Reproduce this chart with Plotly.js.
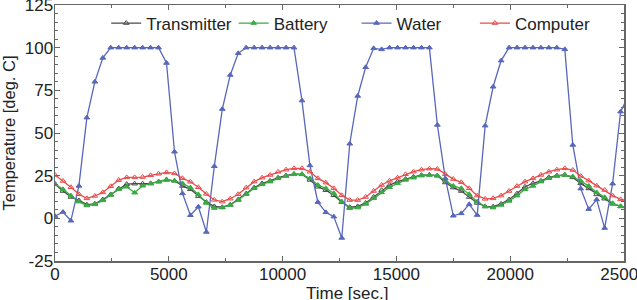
<!DOCTYPE html>
<html>
<head>
<meta charset="utf-8">
<script src="https://cdn.plot.ly/plotly-3.0.1.min.js"></script>
<style>
  html, body { margin: 0; padding: 0; background: #fff; }
  #chart { width: 637px; height: 300px; }
</style>
</head>
<body>
<div id="chart"></div>
<script>
// Sample times [sec.] – one reading every 350 s
const timeSec = [
  0, 350, 700, 1050, 1400, 1750, 2100, 2450, 2800, 3150,
  3500, 3850, 4200, 4550, 4900, 5250, 5600, 5950, 6300, 6650,
  7000, 7350, 7700, 8050, 8400, 8750, 9100, 9450, 9800, 10150,
  10500, 10850, 11200, 11550, 11900, 12250, 12600, 12950, 13300, 13650,
  14000, 14350, 14700, 15050, 15400, 15750, 16100, 16450, 16800, 17150,
  17500, 17850, 18200, 18550, 18900, 19250, 19600, 19950, 20300, 20650,
  21000, 21350, 21700, 22050, 22400, 22750, 23100, 23450, 23800, 24150,
  24500, 24850, 25200
];

// Temperatures [deg. C]
const transmitter = [
  20.1, 16.0, 12.5, 10.5, 8.0, 8.5, 11.0, 14.0, 17.5, 20.0,
  20.3, 20.3, 20.5, 21.5, 22.5, 22.0, 19.0, 17.0, 13.0, 9.5,
  7.0, 6.5, 8.0, 11.0, 14.5, 18.0, 20.5, 22.0, 23.8, 25.0,
  26.0, 25.8, 22.5, 18.5, 16.5, 13.5, 9.5, 6.5, 7.0, 9.0,
  12.5, 16.5, 19.5, 21.5, 23.0, 24.3, 25.3, 25.5, 25.0, 21.0,
  18.0, 16.0, 12.5, 9.0, 7.0, 6.8, 8.5, 11.0, 14.5, 18.5,
  20.5, 22.0, 24.0, 25.0, 25.5, 24.0, 20.5, 17.5, 14.0, 11.5,
  8.5, 7.0, 6.5
];

const battery = [
  20.1, 17.0, 13.3, 9.8, 7.5, 8.2, 10.5, 13.6, 17.0, 18.5,
  15.0, 19.1, 20.3, 21.5, 22.8, 22.0, 20.5, 18.0, 14.0, 9.0,
  6.0, 6.3, 7.8, 10.7, 14.1, 17.6, 19.9, 21.5, 23.4, 24.8,
  25.8, 25.8, 23.4, 19.5, 17.6, 14.7, 9.8, 5.9, 6.3, 8.4,
  11.7, 15.2, 18.2, 20.5, 22.5, 23.8, 25.0, 25.4, 25.0, 22.1,
  19.0, 17.6, 14.1, 9.8, 6.9, 6.3, 7.8, 10.2, 13.3, 17.0,
  19.0, 21.5, 23.5, 24.8, 25.3, 24.5, 21.9, 19.0, 15.2, 12.3,
  8.8, 7.0, 6.5
];

const water = [
  1.3, 3.7, -1.4, 19.0, 59.0, 80.0, 94.0, 100, 100, 100,
  100, 100, 100, 100, 91.0, 39.0, 14.6, 1.8, 6.8, -8.0,
  30.5, 64.0, 84.0, 96.7, 100, 100, 100, 100, 100, 100,
  100, 69.0, 31.0, 9.5, 3.5, 1.0, -11.5, 43.7, 71.7, 88.5,
  99.6, 99.0, 100, 100, 100, 100, 100, 100, 54.7, 23.4,
  1.5, 2.9, 8.2, 1.9, 54.3, 77.1, 92.4, 100, 100, 100,
  100, 100, 100, 100, 99.0, 43.0, 17.4, 5.4, 11.0, -5.7,
  20.3, 62.5, 72.0
];

const computer = [
  25.4, 21.9, 18.2, 14.1, 11.7, 13.1, 15.2, 18.8, 22.4, 24.0,
  24.0, 24.2, 25.2, 26.1, 26.9, 26.3, 23.5, 21.4, 18.2, 14.3,
  10.8, 9.8, 11.5, 14.1, 18.0, 21.5, 23.8, 25.4, 27.3, 28.5,
  29.3, 29.3, 27.3, 23.4, 20.9, 17.6, 13.5, 10.7, 10.7, 12.5,
  16.0, 19.5, 22.0, 23.8, 25.8, 27.3, 28.5, 29.1, 28.9, 25.8,
  23.0, 21.1, 17.6, 13.3, 11.4, 11.7, 13.3, 16.0, 18.9, 21.5,
  23.4, 25.4, 27.3, 28.5, 29.3, 28.3, 24.8, 22.1, 19.1, 16.6,
  13.3, 11.1, 10.5
];

const seriesNames = ['Transmitter', 'Battery', 'Water', 'Computer'];
const xTickVals = [0, 5000, 10000, 15000, 20000, 25000];
const yTickVals = [-25, 0, 25, 50, 75, 100, 125];

const FONT = 'Liberation Sans, Arial, Helvetica, sans-serif';

// Each series gets its own legend box so the entries can be spaced freely
function series(name, y, color, symbol, legendId) {
  return {
    type: 'scatter',
    mode: 'lines+markers',
    name: name,
    legend: legendId,
    x: timeSec,
    y: y,
    line: { color: color, width: 1.3 },
    marker: { symbol: symbol, size: 5, color: color, line: { color: color, width: 1 } }
  };
}

const traces = [
  series(seriesNames[0], transmitter, '#4a4a4a', 'triangle-up-open', 'legend'),
  series(seriesNames[1], battery, '#3aaa45', 'triangle-up', 'legend2'),
  series(seriesNames[2], water, '#5867ba', 'triangle-up', 'legend3'),
  series(seriesNames[3], computer, '#e84b4b', 'triangle-up-open', 'legend4')
];

function legendAt(x) {
  return {
    orientation: 'h',
    x: x,
    xanchor: 'left',
    y: 0.998,
    yanchor: 'top',
    bgcolor: 'rgba(0,0,0,0)',
    font: { family: FONT, size: 17, color: '#222' }
  };
}

const axisCommon = {
  showline: true,
  linecolor: '#666',
  linewidth: 1.5,
  mirror: 'ticks',
  ticks: 'inside',
  ticklen: 5,
  tickwidth: 1,
  tickcolor: '#666',
  showgrid: false,
  zeroline: false,
  ticklabeloverflow: 'allow',
  tickfont: { family: FONT, size: 17, color: '#222' }
};

const layout = {
  width: 637,
  height: 300,
  margin: { l: 55, r: 13, t: 5, b: 39 },
  paper_bgcolor: '#fff',
  plot_bgcolor: '#fff',
  font: { family: FONT, size: 17, color: '#222' },
  showlegend: true,
  legend: legendAt(0.090),
  legend2: legendAt(0.314),
  legend3: legendAt(0.530),
  legend4: legendAt(0.738),
  xaxis: Object.assign({}, axisCommon, {
    range: [0, 25000],
    tickmode: 'array',
    tickvals: xTickVals,
    ticktext: xTickVals.map(String),
    ticklabelstandoff: -3,
    minor: { dtick: 2500, ticks: 'inside', ticklen: 3, tickcolor: '#666' }
  }),
  yaxis: Object.assign({}, axisCommon, {
    range: [-25, 125],
    tickmode: 'array',
    tickvals: yTickVals,
    ticktext: yTickVals.map(String),
    ticklabelstandoff: -3,
    minor: { dtick: 5, ticks: 'inside', ticklen: 3, tickcolor: '#666' },
    title: { text: 'Temperature [deg. C]', font: { family: FONT, size: 16.5, color: '#222' }, standoff: 9 }
  }),
  // x-axis caption, placed slightly right of centre and low in the margin
  annotations: [{
    text: 'Time [sec.]',
    xref: 'paper', yref: 'paper',
    x: 0.514, y: -0.125,
    xanchor: 'center', yanchor: 'middle',
    showarrow: false,
    font: { family: FONT, size: 17, color: '#222' }
  }]
};

Plotly.newPlot('chart', traces, layout, { displayModeBar: false, staticPlot: true });
</script>
</body>
</html>
